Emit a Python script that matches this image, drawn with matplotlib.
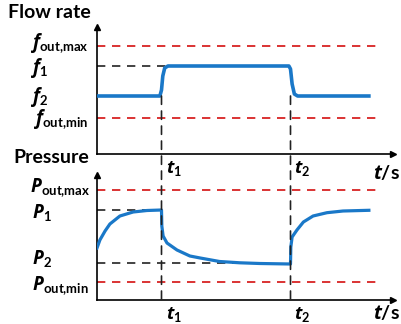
import matplotlib
matplotlib.use("Agg")

import matplotlib.pyplot as plt
from matplotlib.patches import ConnectionPatch

plt.rcParams["font.family"] = ["Lato", "DejaVu Sans"]
plt.rcParams["font.weight"] = "bold"
plt.rcParams["mathtext.fontset"] = "custom"
plt.rcParams["mathtext.rm"] = "Lato:bold"
plt.rcParams["mathtext.it"] = "Open Sans:italic:bold"
plt.rcParams["mathtext.bf"] = "Lato:bold"
plt.rcParams["mathtext.bfit"] = "Open Sans:italic:bold"

# switching times
t1, t2 = 2.0, 6.0

# flow rate levels and trace
f_out_max, f_out_min = 10.8, 3.6
f1, f2 = 8.8, 5.8
flow_t = [0, 1.95, 2.0, 2.04, 2.1, 2.2, 5.95, 6.0, 6.05, 6.12, 6.22, 8.43]
flow_v = [5.8, 5.8, 6.4, 7.8, 8.6, 8.8, 8.8, 8.5, 7.0, 6.0, 5.8, 5.8]

# pressure levels and trace
p_out_max, p_out_min = 11.0, 1.8
p1, p2 = 9.0, 3.75
pres_t = [0, 0.09, 0.25, 0.4, 0.71, 1.12, 1.55, 2.0, 2.01, 2.05, 2.17, 2.48,
          2.88, 3.2, 3.8, 4.43, 5.05, 6.0, 6.01, 6.05, 6.2, 6.4, 6.7, 7.13,
          7.63, 8.43]
pres_v = [5.2, 6.0, 6.9, 7.6, 8.4, 8.8, 8.95, 9.0, 7.4, 6.4, 5.7, 5.0,
          4.4, 4.2, 3.85, 3.72, 3.65, 3.6, 5.3, 6.3, 7.0, 7.8, 8.4, 8.73,
          8.9, 8.97]

BLUE = "#1a78c8"
RED = "#d41010"
DARK = "#222222"
W, H = 401, 324

fig = plt.figure(figsize=(W / 100, H / 100), dpi=100)
ax_f = fig.add_axes([97 / W, 1 - 154 / H, (393 - 97) / W, (154 - 27) / H])
ax_p = fig.add_axes([97 / W, 1 - 300 / H, (393 - 97) / W, (300 - 175) / H])

dash = (0, (5, 4))


def style_axis(ax, ytop):
    ax.set_xlim(0, 296 / 32.25)
    ax.set_ylim(0, ytop)
    for s in ("top", "right"):
        ax.spines[s].set_visible(False)
    for s in ("left", "bottom"):
        ax.spines[s].set_linewidth(1.2)
    ax.set_xticks([])
    ax.set_yticks([])
    ax.patch.set_alpha(0)
    ax.plot(1, 0, ">", color="k", ms=5, transform=ax.transAxes, clip_on=False)
    ax.plot(0, 1, "^", color="k", ms=4, transform=ax.transAxes, clip_on=False)


def level_label(ax, text, y, x_px, size=13.5):
    ax.annotate(text, xy=(0, y), xycoords=ax.get_yaxis_transform(),
                xytext=(x_px - 97, 0), textcoords="offset pixels",
                ha="left", va="center", fontsize=size)


# flow rate panel
style_axis(ax_f, 12.7)
ax_f.plot([0, 8.71], [f_out_max] * 2, color=RED, lw=1.2, ls=dash)
ax_f.plot([0, 8.65], [f_out_min] * 2, color=RED, lw=1.2, ls=dash)
ax_f.plot([0, 2.33], [f1] * 2, color=DARK, lw=1.2, ls=dash)
ax_f.plot(flow_t, flow_v, color=BLUE, lw=2.6, zorder=3)
level_label(ax_f, r"$\mathbfit{f}_{\mathrm{out{,}max}}$", f_out_max + 0.25, 30)
level_label(ax_f, r"$\mathbfit{f}_1$", f1 - 0.15, 30)
level_label(ax_f, r"$\mathbfit{f}_2$", f2 - 0.1, 30)
level_label(ax_f, r"$\mathbfit{f}_{\mathrm{out{,}min}}$", f_out_min - 0.15, 33)

# pressure panel
style_axis(ax_p, 12.5)
ax_p.plot([0, 8.71], [p_out_max] * 2, color=RED, lw=1.2, ls=dash)
ax_p.plot([0, 8.65], [p_out_min] * 2, color=RED, lw=1.2, ls=dash)
ax_p.plot([0, t1], [p1] * 2, color=DARK, lw=1.2, ls=dash)
ax_p.plot([0, 5.1], [p2] * 2, color=DARK, lw=1.2, ls=dash)
ax_p.plot(pres_t, pres_v, color=BLUE, lw=2.3, zorder=3)
level_label(ax_p, r"$\mathbfit{P}_{\mathrm{out{,}max}}$", p_out_max + 0.2, 30)
level_label(ax_p, r"$\mathbfit{P}_1$", p1 - 0.3, 32)
level_label(ax_p, r"$\mathbfit{P}_2$", p2 + 0.3, 32)
level_label(ax_p, r"$\mathbfit{P}_{\mathrm{out{,}min}}$", p_out_min - 0.4, 32)

# vertical switching lines spanning both panels
for t in (t1, t2):
    con = ConnectionPatch(xyA=(t, f2), coordsA=ax_f.transData,
                          xyB=(t, 0), coordsB=ax_p.transData,
                          color=DARK, lw=1.2, ls=(0, (5, 4)), zorder=1)
    fig.add_artist(con)

# time labels
for ax, yp, base in ((ax_f, 169, 154), (ax_p, 314, 300)):
    for t, lab in ((t1, r"$\mathbfit{t}_1$"), (t2, r"$\mathbfit{t}_2$")):
        ax.annotate(lab, xy=(t, 0), xycoords="data",
                    xytext=(4, -(yp - base)), textcoords="offset pixels",
                    ha="left", va="center", fontsize=13)
fig.text(373 / W, 1 - 172 / H, r"$\mathbfit{t}$/s", ha="left", va="center", fontsize=14)
fig.text(373 / W, 1 - 313 / H, r"$\mathbfit{t}$/s", ha="left", va="center", fontsize=14)

fig.text(8 / W, 1 - 12 / H, "Flow rate", ha="left", va="center", fontsize=14)
fig.text(13 / W, 1 - 158 / H, "Pressure", ha="left", va="center", fontsize=14)

fig.savefig("out.png", dpi=100)
